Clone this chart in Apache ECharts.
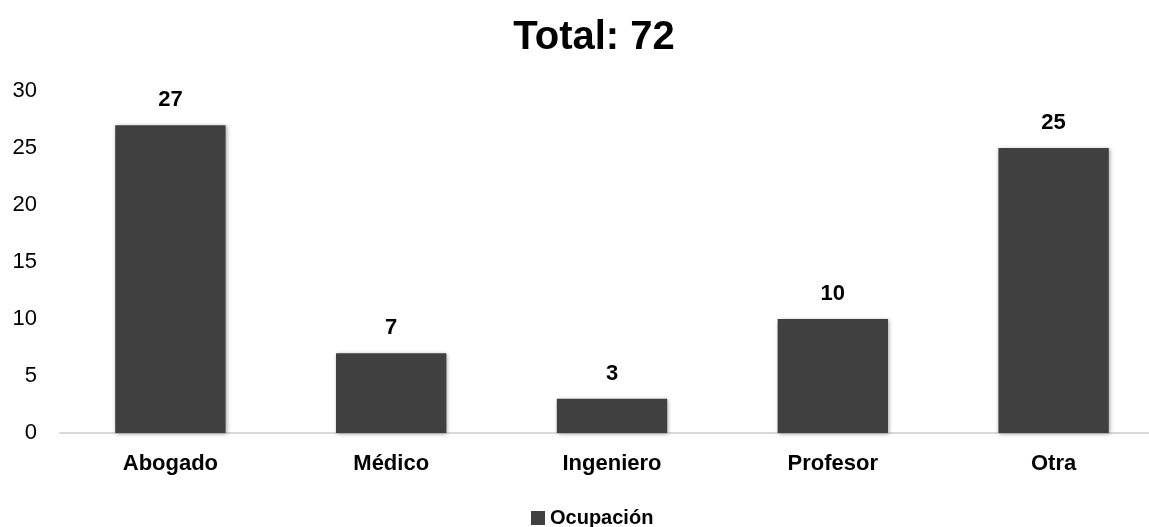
<html>
<head>
    <meta charset="utf-8">
    <script src="https://cdn.jsdelivr.net/npm/echarts@6/dist/echarts.min.js"></script>
</head>
<body style="margin:0;overflow:hidden">
<div id="main" style="width: 1188px;height:527px;"></div>
</body>
<script type="text/javascript">
    var categorias = ['Abogado', 'Médico', 'Ingeniero', 'Profesor', 'Otra'];
    var valores = [27, 7, 3, 10, 25];
    var serieNombre = 'Ocupación';
    var titulo = 'Total: 72';

    // el grafico original es mas ancho que la captura, se corta a la derecha
    var myChart = echarts.init(document.getElementById('main'));
    var fuente = '"Liberation Sans", Arial, sans-serif';

    var option = {
        animation: false,
        title: {
            text: titulo,
            left: 'center',
            top: 13,
            textStyle: { fontFamily: fuente, fontSize: 40, fontWeight: 'bold', color: '#000' }
        },
        legend: {
            data: [serieNombre],
            bottom: -6,
            left: 526,
            itemWidth: 14,
            itemHeight: 14,
            itemGap: 4,
            icon: 'rect',
            textStyle: { fontFamily: fuente, fontSize: 20, fontWeight: 'bold', color: '#000' }
        },
        grid: { left: 60, right: 24, top: 91, bottom: 94, containLabel: false },
        xAxis: {
            type: 'category',
            data: categorias,
            axisLine: { lineStyle: { color: '#d9d9d9', width: 2 } },
            axisTick: { show: false },
            axisLabel: { fontFamily: fuente, fontSize: 22, fontWeight: 'bold', color: '#000', margin: 20 }
        },
        yAxis: {
            type: 'value',
            min: 0,
            max: 30,
            interval: 5,
            splitLine: { show: false },
            axisLine: { show: false },
            axisLabel: { fontFamily: fuente, fontSize: 22, color: '#000', margin: 23 }
        },
        series: [{
            name: serieNombre,
            type: 'bar',
            data: valores,
            barWidth: '50%',
            itemStyle: {
                color: '#404040',
                shadowBlur: 4,
                shadowColor: 'rgba(0,0,0,0.35)',
                shadowOffsetX: 1,
                shadowOffsetY: 1
            },
            label: {
                show: true,
                position: 'top',
                distance: 14,
                fontFamily: fuente,
                fontSize: 22,
                fontWeight: 'bold',
                color: '#000'
            }
        }]
    };

    myChart.setOption(option);
</script>
</html>
